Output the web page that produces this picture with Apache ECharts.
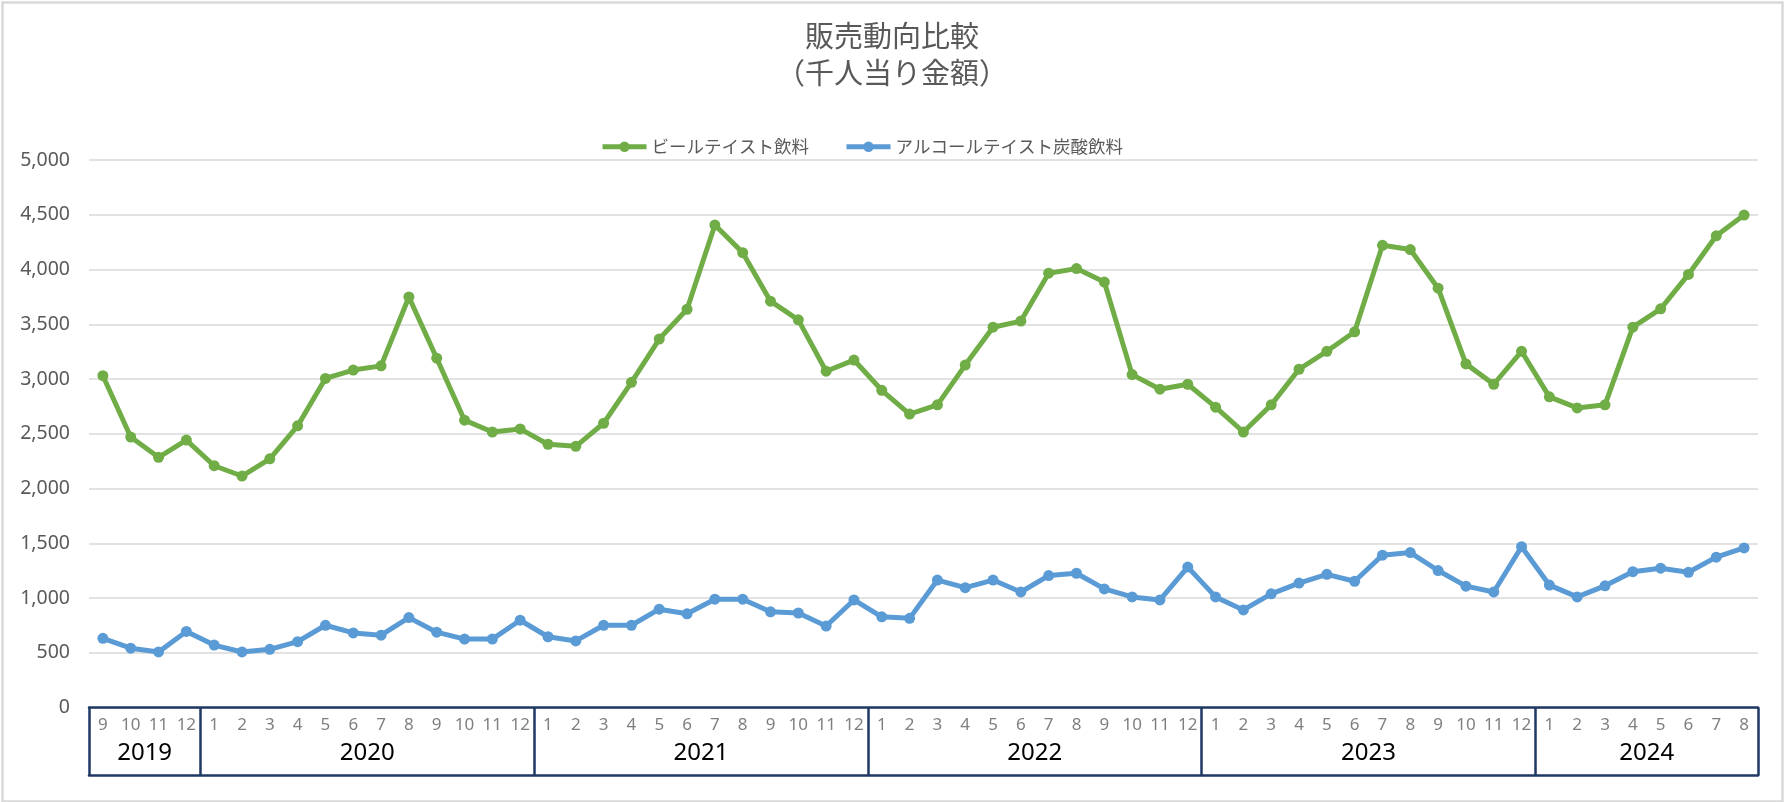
<!DOCTYPE html>
<html>
<head>
<meta charset="utf-8">
<script src="https://cdn.jsdelivr.net/npm/echarts@6/dist/echarts.min.js"></script>
<style>
html,body{margin:0;padding:0;background:#fff;}
#chart{width:1784px;height:802px;}
</style>
</head>
<body>
<div id="chart"></div>
<script>
const titleMain = '販売動向比較';
const titleSub = '（千人当り金額）';
const seriesNames = ['ビールテイスト飲料', 'アルコールテイスト炭酸飲料'];
const monthLabels = ['9','10','11','12',
  '1','2','3','4','5','6','7','8','9','10','11','12',
  '1','2','3','4','5','6','7','8','9','10','11','12',
  '1','2','3','4','5','6','7','8','9','10','11','12',
  '1','2','3','4','5','6','7','8','9','10','11','12',
  '1','2','3','4','5','6','7','8'];
const yearLabels = ['2019','2020','2021','2022','2023','2024'];
const beerTaste = [3030,2470,2285,2442,
  2208,2114,2271,2572,3005,3082,3120,3749,3190,2624,2516,2544,
  2404,2385,2596,2970,3365,3637,4406,4154,3711,3540,3071,3173,
  2897,2680,2764,3127,3473,3529,3966,4008,3885,3040,2907,2952,
  2743,2516,2764,3089,3253,3431,4221,4182,3829,3138,2952,3253,
  2837,2736,2764,3473,3641,3955,4308,4497];
const alcoholSoda = [632,542,507,695,
  570,507,531,601,751,681,660,821,688,625,625,797,
  646,608,751,751,898,856,989,989,874,863,744,982,
  828,814,1164,1094,1164,1055,1205,1226,1083,1010,982,1282,
  1010,891,1038,1136,1216,1153,1391,1415,1251,1108,1055,1468,
  1118,1010,1111,1240,1272,1235,1373,1457];
const yTicks = {min: 0, max: 5000, interval: 500};

// year boundaries (category index where a new year starts) and centers
const boundaries = [0];
monthLabels.forEach((m, i) => { if (i > 0 && m === '1') boundaries.push(i); });
boundaries.push(monthLabels.length);
const centers = [];
for (let i = 0; i < boundaries.length - 1; i++) centers.push((boundaries[i] + boundaries[i + 1]) / 2);

const boxColor = '#1f3864';
const cjk = "'Noto Sans CJK JP', 'Noto Sans', sans-serif";
const titleStyle = {fontFamily: cjk, fontSize: 29, fontWeight: 'normal', color: '#595959', lineHeight: 37};

const chart = echarts.init(document.getElementById('chart'));
chart.setOption({
  animation: false,
  backgroundColor: '#ffffff',
  graphic: [{
    type: 'rect', left: 0, top: 0, silent: true,
    shape: {x: 1, y: 1, width: 1780, height: 799},
    style: {fill: 'none', stroke: '#d9d9d9', lineWidth: 2.5}
  }],
  title: {
    text: titleMain, subtext: titleSub, left: 'center', top: 17, itemGap: 0, padding: 0,
    textStyle: titleStyle,
    subtextStyle: titleStyle
  },
  legend: {
    top: 133, left: 595,
    itemWidth: 44, itemHeight: 13, itemGap: 35,
    lineStyle: {width: 5},
    textStyle: {fontFamily: cjk, fontSize: 17.5, color: '#595959'},
    data: seriesNames
  },
  grid: {left: 89, right: 26, top: 160, bottom: 94.5, containLabel: false},
  xAxis: [{
    type: 'category', data: monthLabels, boundaryGap: true, position: 'bottom',
    axisLine: {show: true, lineStyle: {color: boxColor, width: 2.5}},
    axisTick: {show: false},
    axisLabel: {interval: 0, margin: 9, color: '#7f7f7f', fontSize: 17, fontFamily: "'Noto Sans', sans-serif"},
    splitLine: {show: false}
  }, {
    type: 'value', min: 0, max: monthLabels.length, position: 'bottom', offset: 68,
    axisLine: {show: true, onZero: false, lineStyle: {color: boxColor, width: 2.5}},
    axisTick: {show: true, inside: true, length: 68, customValues: boundaries, lineStyle: {color: boxColor, width: 2.5}},
    axisLabel: {show: true, inside: true, margin: 10, customValues: centers, color: '#000000', fontSize: 24,
      fontFamily: "'Noto Sans', sans-serif",
      formatter: function (v) { const k = centers.indexOf(v); return k >= 0 ? yearLabels[k] : ''; }},
    splitLine: {show: false}
  }],
  yAxis: {
    type: 'value', min: yTicks.min, max: yTicks.max, interval: yTicks.interval,
    axisLine: {show: false}, axisTick: {show: false},
    axisLabel: {margin: 19, color: '#595959', fontSize: 19.5, fontFamily: "'Noto Sans', sans-serif",
      formatter: function (v) { return v.toLocaleString('en-US'); }},
    splitLine: {show: true, lineStyle: {color: '#d9d9d9', width: 1.5}}
  },
  series: [{
    name: seriesNames[0], type: 'line', xAxisIndex: 0, data: beerTaste,
    symbol: 'circle', symbolSize: 11, showSymbol: true,
    itemStyle: {color: '#70ad47'}, lineStyle: {color: '#70ad47', width: 5}
  }, {
    name: seriesNames[1], type: 'line', xAxisIndex: 0, data: alcoholSoda,
    symbol: 'circle', symbolSize: 11, showSymbol: true,
    itemStyle: {color: '#5b9bd5'}, lineStyle: {color: '#5b9bd5', width: 5}
  }]
});
</script>
</body>
</html>
